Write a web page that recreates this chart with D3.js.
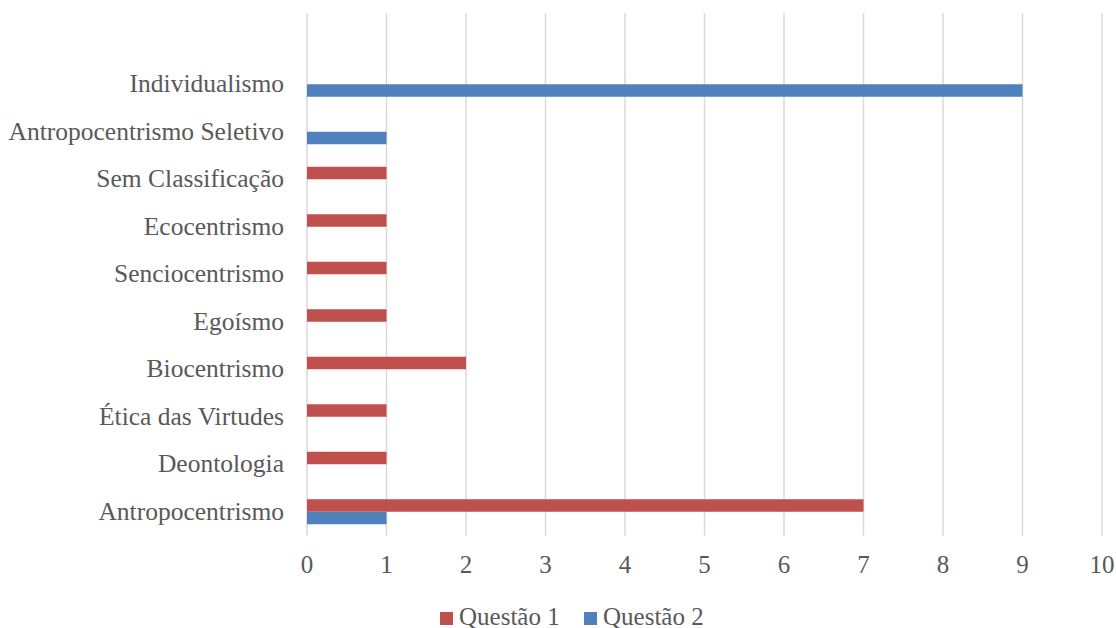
<!DOCTYPE html>
<html>
<head>
<meta charset="utf-8">
<script src="https://cdn.jsdelivr.net/npm/d3@7"></script>
<style>
  body { margin: 0; background: #fff; }
  text { font-family: "Liberation Serif", serif; fill: #595959; }
</style>
</head>
<body>
<svg width="1116" height="628"></svg>
<script>
"use strict";

// categories from bottom to top, the blank one is the empty row above Individualismo
var categories = ["Antropocentrismo", "Deontologia", "Ética das Virtudes", "Biocentrismo",
    "Egoísmo", "Senciocentrismo", "Ecocentrismo", "Sem Classificação",
    "Antropocentrismo Seletivo", "Individualismo", ""];
var seriesNames = ["Questão 1", "Questão 2"];
var questao1 = [7, 1, 1, 2, 1, 1, 1, 1, 0, 0, 0];
var questao2 = [1, 0, 0, 0, 0, 0, 0, 0, 1, 9, 0];
var xTicks = [0, 1, 2, 3, 4, 5, 6, 7, 8, 9, 10];
var colors = ["#C0504D", "#4F81BD"];

var svg = d3.select("svg");

var x = d3.scaleLinear().domain([0, 10]).range([307, 1102]);
var y = d3.scaleBand().domain(categories).range([535.5, 13]).padding(0);
var groupH = 25;
var y1 = d3.scaleBand().domain(seriesNames).range([0, groupH]);

// gridlines
svg.append("g")
  .selectAll("line").data(xTicks).enter()
  .append("line")
    .attr("x1", function(d) { return x(d); })
    .attr("x2", function(d) { return x(d); })
    .attr("y1", 13)
    .attr("y2", 535.5)
    .style("stroke", "#d9d9d9")
    .style("stroke-width", 1.5);

// bars
var rows = categories.map(function(c, i) {
    return {cat: c, vals: [questao1[i], questao2[i]]};
});
svg.append("g")
  .selectAll("g").data(rows).enter()
  .append("g")
    .attr("transform", function(d) {
        return "translate(0," + (y(d.cat) + (y.bandwidth() - groupH) / 2) + ")";
    })
  .selectAll("rect").data(function(d) {
        return d.vals.map(function(v, j) { return {s: seriesNames[j], v: v, j: j}; });
    }).enter()
  .append("rect")
    .attr("x", x(0))
    .attr("y", function(d) { return y1(d.s); })
    .attr("width", function(d) { return x(d.v) - x(0); })
    .attr("height", y1.bandwidth())
    .style("fill", function(d) { return colors[d.j]; });

// category labels
svg.append("g")
  .selectAll("text").data(categories).enter()
  .append("text")
    .attr("x", 284)
    .attr("y", function(d) { return y(d) + y.bandwidth() / 2 + 8; })
    .attr("text-anchor", "end")
    .style("font-size", "25.5px")
    .text(function(d) { return d; });

// x tick labels
svg.append("g")
  .selectAll("text").data(xTicks).enter()
  .append("text")
    .attr("x", function(d) { return x(d); })
    .attr("y", 573)
    .attr("text-anchor", "middle")
    .style("font-size", "25px")
    .text(function(d) { return d; });

// legend
var legendX = [440, 584];
var legend = svg.append("g")
  .selectAll("g").data(seriesNames).enter()
  .append("g")
    .attr("transform", function(d, i) { return "translate(" + legendX[i] + ",612)"; });
legend.append("rect")
    .attr("width", 13)
    .attr("height", 13)
    .style("fill", function(d, i) { return colors[i]; });
legend.append("text")
    .attr("x", 19)
    .attr("y", 12.5)
    .style("font-size", "25px")
    .text(function(d) { return d; });
</script>
</body>
</html>
